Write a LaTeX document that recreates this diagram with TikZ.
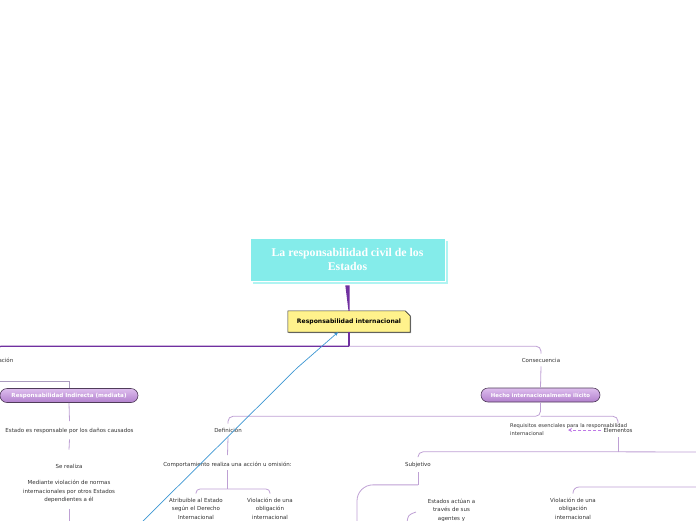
\documentclass[tikz,border=0pt]{standalone}
\usepackage{fontspec}
\setmainfont{DejaVu Sans}
\newfontfamily\titlefont{Liberation Serif}
\usetikzlibrary{arrows.meta,shapes.misc,backgrounds}
\definecolor{cyanbox}{RGB}{132,236,234}
\definecolor{cyanshadow}{RGB}{176,244,242}
\definecolor{yelbox}{RGB}{255,242,140}
\definecolor{dpurple}{RGB}{112,48,160}
\definecolor{lpurple}{RGB}{190,160,212}
\definecolor{gpurple}{RGB}{170,155,190}
\definecolor{pilltop}{RGB}{222,190,238}
\definecolor{pillbot}{RGB}{178,128,205}
\definecolor{pillborder}{RGB}{80,60,90}
\definecolor{bluearrow}{RGB}{60,150,210}
\definecolor{dasharrow}{RGB}{190,120,230}
\definecolor{txtgray}{RGB}{50,50,50}
\begin{document}
\begin{tikzpicture}[x=1pt,y=-1pt,
  txt/.style={font=\fontsize{5.5}{8.5}\selectfont, text=txtgray, inner sep=0pt, align=center},
  lline/.style={draw=lpurple, line width=0.8pt},
  dline/.style={draw=dpurple, line width=1.2pt},
  pill/.style={rounded rectangle, draw=pillborder, line width=0.6pt, top color=pilltop, bottom color=pillbot, text=white, font=\fontsize{5.6}{6}\selectfont\bfseries, minimum height=14pt, inner sep=0pt},
]
\useasboundingbox (0,0) rectangle (696,520);
\clip (0,0) rectangle (696,520);

% title
\fill[cyanshadow] (253,241) rectangle (448,284);
\node[draw=white, line width=0.8pt, fill=cyanbox, minimum width=195pt, minimum height=43pt, inner sep=0pt, align=center, text=white, font=\titlefont\fontsize{11.8}{14}\selectfont\bfseries] (title) at (347.5,259.5) {La responsabilidad civil de los\\Estados};

% Responsabilidad internacional
\node[minimum width=122pt, minimum height=21pt, inner sep=0pt, font=\fontsize{6.1}{7}\selectfont\bfseries, text=black] (ri) at (349,321.5) {Responsabilidad internacional};
\begin{scope}[on background layer]
\fill[gray!60] ([xshift=1pt,yshift=-1pt]ri.south west) -- ([xshift=1pt,yshift=-1pt]ri.north west) -- ([xshift=-4pt,yshift=-1pt]ri.north east) -- ([xshift=1pt,yshift=-6pt]ri.north east) -- ([xshift=1pt,yshift=-1pt]ri.south east) -- cycle;
\draw[fill=yelbox, draw=black!80, line width=0.6pt] (ri.south west) -- (ri.north west) -- ([xshift=-5pt]ri.north east) -- ([yshift=-5pt]ri.north east) -- (ri.south east) -- cycle;
\end{scope}

% tapered connector
\fill[dpurple] ([xshift=-2.2pt,yshift=-4pt]title.south) -- ([xshift=2.2pt,yshift=-4pt]title.south) -- ([xshift=0.5pt]ri.north) -- ([xshift=-0.5pt]ri.north) -- cycle;

% level 2 nodes
\node[txt, anchor=east] (clas) at (13.5,360) {Clasificación};
\node[txt] (cons) at (541,360) {Consecuencia};
\node[pill, minimum width=138pt] (indir) at (69,395.5) {Responsabilidad Indirecta (mediata)};
\node[pill, minimum width=119pt, font=\fontsize{5.4}{6}\selectfont\bfseries] (hecho) at (540.5,395) {Hecho internacionalmente ilícito};

\draw[dline] (ri.south) -- ++(0,14) coordinate (hub);
\draw[dline, rounded corners=5pt] (hub) -| (clas.north);
\draw[lline, rounded corners=5pt] (hub) -| ([yshift=4pt]cons.north);
\draw[lline] ([yshift=-4pt]cons.south) -- (hecho.north);
\draw[draw=gpurple, line width=0.7pt] (clas.south) |- ([yshift=7pt]indir.north) -- (indir.north);

% left column
\node[txt] (estado) at (69.5,431) {Estado es responsable por los daños causados};
\node[txt] (sereal) at (69,466) {Se realiza};
\node[txt] (med) at (69,491.5) {Mediante violación de normas\\internacionales por otros Estados\\dependientes a él};
\coordinate (medend) at (69,530);
\draw[lline] (indir.south) -- ([yshift=7pt]estado.north);
\draw[lline] ([yshift=-5.5pt]estado.south) -- ([yshift=14pt]sereal.north);
\draw[lline] ([yshift=-6pt]med.south) -- (medend);

% right part
\node[txt] (def) at (228,430) {Definición};
\node[txt, align=left, anchor=west, font=\fontsize{5.15}{8.5}\selectfont] (req) at (510,429.5) {Requisitos esenciales para la responsabilidad\\internacional};
\node[txt] (elem) at (618,430) {Elementos};
\coordinate (reqpt) at (568,430);
\draw[lline, rounded corners=5pt] (hecho.south) -- ++(0,14) coordinate (h2) -| ([yshift=4pt]def.north);
\draw[lline, rounded corners=5pt] (h2) -| ([yshift=4pt]elem.north);
\draw[draw=dasharrow, line width=0.8pt, dashed, dash pattern=on 3pt off 2pt, -{Stealth[length=4pt,width=4pt]}] ([xshift=-2pt]elem.west) -- (reqpt);

\node[txt] (comp) at (227.5,465) {Comportamiento realiza una acción u omisión:};
\draw[lline] ([yshift=-5pt]def.south) -- ([yshift=7pt]comp.north);
\node[txt] (atrib) at (196,508.5) {Atribuible al Estado\\según el Derecho\\Internacional};
\node[txt] (viol1) at (270,508.5) {Violación de una\\obligación\\internacional};
\draw[lline] ([yshift=-2.5pt]comp.south) -- ++(0,18.5) coordinate (c2);
\draw[lline, rounded corners=4pt] (c2) -| ([yshift=4pt]atrib.north);
\draw[lline, rounded corners=4pt] (c2) -| ([yshift=4pt]viol1.north);

\node[txt] (subj) at (418,465) {Subjetivo};
\coordinate (offr) at (720,452);
\coordinate (offr2) at (720,487);
\coordinate (subjend) at (357,540);
\draw[lline] ([yshift=-5pt]elem.south) -- ++(0,14.5) coordinate (e2);
\draw[lline, rounded corners=5pt] (e2) -| ([yshift=5pt]subj.north);
\draw[lline] (e2) -- (offr);
\draw[lline] ([yshift=-4.5pt]subj.south) -- ++(0,12.5) coordinate (s2);
\draw[lline, rounded corners=16pt] (s2) -| (subjend);

\node[txt] (estados) at (451.5,510) {Estados actúan a\\través de sus\\agentes y};
\coordinate (estbr) at (407,523);
\draw[lline] (estbr) .. controls (408,515) .. (416,512);

\node[txt] (viol2) at (573,508.5) {Violación de una\\obligación\\internacional};
\draw[lline, rounded corners=6pt] (offr2) -| ([yshift=4pt]viol2.north);

% blue arrow
\coordinate (bstart) at (140,524);
\coordinate (bmid) at (297,368);
\draw[draw=bluearrow, line width=0.7pt, -{Stealth[length=4pt,width=3.5pt]}] (bstart) -- (bmid) -- ([xshift=-11pt]ri.south);
\end{tikzpicture}
\end{document}
